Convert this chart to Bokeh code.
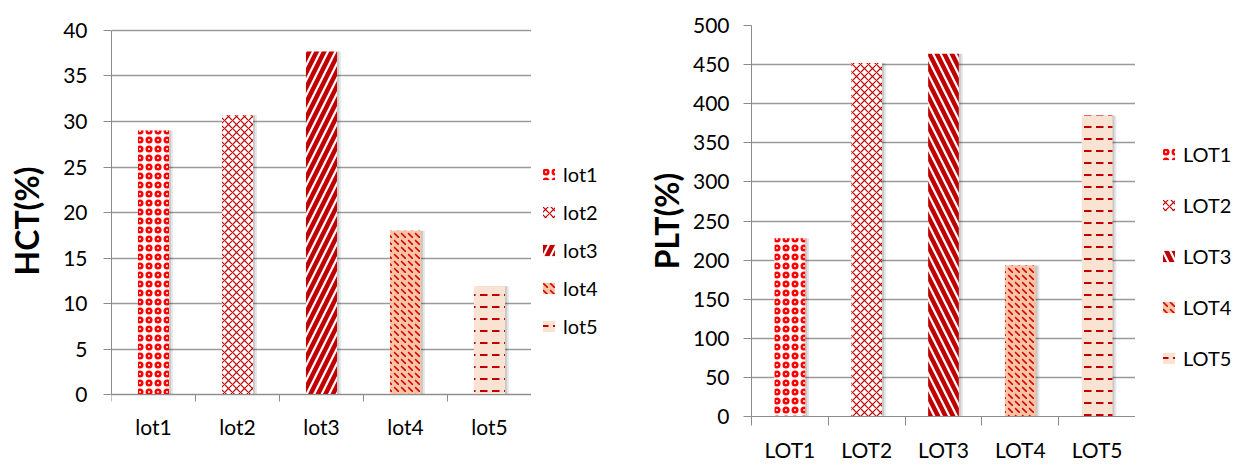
from bokeh.plotting import figure
from bokeh.models import (ColumnDataSource, Range1d, FixedTicker, LinearAxis,
                          SingleIntervalTicker, Legend, LegendItem)
from bokeh.layouts import row
from bokeh.transform import dodge
from bokeh.embed import file_html
from bokeh.resources import INLINE

# ---------------- data ----------------
hct_lots = ["lot1", "lot2", "lot3", "lot4", "lot5"]
hct_values = [29.0, 30.7, 37.7, 18.0, 11.9]

plt_lots = ["LOT1", "LOT2", "LOT3", "LOT4", "LOT5"]
plt_values = [228, 452, 464, 193, 385]

# ---------------- styles ----------------
FONT = "Lato"
fills = ["#ffffff", "#ffffff", "#ffffff", "#f9c4a6", "#fbe3d4"]
hcolors = ["#ff0000", "#c00000", "#c00000", "#d40000", "#c00000"]
hweights = [2.5, 1.2, 4.5, 1.6, 2.0]
hscales = [9, 8, 15, 7, 12]
left_patterns = ["ring", "diagonal_cross", "right_diagonal_line",
                 "left_diagonal_dash", "horizontal_dash"]
right_patterns = ["ring", "diagonal_cross", "left_diagonal_line",
                  "left_diagonal_dash", "horizontal_dash"]

H = 464      # figure height
BT = 25      # top border
FH = 394     # frame height (shared by all frames in the row)
BB = H - BT - FH
AXIS_GRAY = "#8c8c8c"


def bar_kwargs(g):
    return dict(x="x", top="top", width=g["bw"], fill_color="fill",
                line_color=None, hatch_pattern="hp", hatch_color="hc",
                hatch_weight="hw", hatch_scale="hs")


def style_labels(ax, standoff):
    ax.major_label_text_font = FONT
    ax.major_label_text_font_size = "21px"
    ax.major_label_text_color = "#000000"
    ax.major_label_standoff = standoff


def make_chart(cats, vals, ymax, yrange, ystep, ylabel, patterns, g):
    n = len(cats)
    centers = [i + 0.5 for i in range(n)]
    bounds = list(range(n + 1))
    src = ColumnDataSource(dict(
        x=centers, top=vals, label=cats,
        fill=fills, hc=hcolors, hw=hweights, hs=hscales, hp=patterns))
    p = figure(x_range=Range1d(0, n), y_range=Range1d(*yrange),
               width=g["bl"] + g["fw"], height=H,
               min_border_left=g["bl"], min_border_right=0,
               min_border_top=BT, min_border_bottom=BB,
               output_backend="svg", toolbar_location=None)
    p.outline_line_color = None
    p.xgrid.grid_line_color = None
    p.ygrid.grid_line_color = "#9a9a9a"
    p.ygrid.grid_line_width = 1.4
    p.background_fill_color = "white"
    p.border_fill_color = "white"

    # soft shadows
    for off, a in ((g["sh"], 0.10), (g["sh"] * 0.5, 0.12)):
        p.vbar(x=dodge("x", off, range=p.x_range), top="top", width=g["bw"],
               source=src, fill_color="#000000", fill_alpha=a, line_color=None)

    p.vbar(source=src, **bar_kwargs(g))

    # y axis
    ya = p.yaxis[0]
    ya.ticker = SingleIntervalTicker(interval=ystep)
    ya.bounds = (0, ymax)
    ya.minor_tick_line_color = None
    ya.major_tick_in = 0
    ya.major_tick_out = 8
    ya.axis_line_color = AXIS_GRAY
    ya.major_tick_line_color = AXIS_GRAY
    style_labels(ya, g["ys"])
    ya.axis_label = ylabel
    ya.axis_label_text_font = FONT
    ya.axis_label_text_font_style = "bold"
    ya.axis_label_text_font_size = "32px"
    ya.axis_label_text_color = "#000000"
    ya.axis_label_standoff = g["ls"]

    # x axis: line + boundary ticks
    xa = p.xaxis[0]
    xa.axis_line_color = AXIS_GRAY
    xa.major_tick_line_color = None
    xa.major_tick_out = 0
    xa.major_tick_in = 0
    xa.minor_tick_in = 0
    xa.minor_tick_out = g["mt"]
    xa.minor_tick_line_color = AXIS_GRAY
    if g["fixed"]:
        # axis drawn on the zero line inside the frame; labels on a 2nd axis
        xa.fixed_location = 0
        xa.ticker = FixedTicker(ticks=[], minor_ticks=bounds)
        lab = LinearAxis(ticker=FixedTicker(ticks=centers),
                         major_label_overrides={c: t for c, t in zip(centers, cats)},
                         axis_line_color=None, major_tick_line_color=None,
                         minor_tick_line_color=None, major_tick_out=0,
                         major_tick_in=0)
        style_labels(lab, g["xs"])
        p.add_layout(lab, "below")
    else:
        xa.ticker = FixedTicker(ticks=centers, minor_ticks=bounds)
        xa.major_label_overrides = {c: t for c, t in zip(centers, cats)}
        style_labels(xa, g["xs"])

    # legend panel (separate small figure holding the legend)
    lf = figure(width=g["lw"], height=H, x_range=Range1d(-10, -9),
                y_range=Range1d(-10, -9), min_border_left=0,
                min_border_right=0, min_border_top=BT, min_border_bottom=BB,
                x_axis_location=None, y_axis_location=None,
                output_backend="svg", toolbar_location=None)
    lf.grid.visible = False
    lf.outline_line_color = None
    lf.border_fill_color = "white"
    lr = lf.vbar(source=src, **bar_kwargs(g))
    items = [LegendItem(label=c, renderers=[lr], index=i) for i, c in enumerate(cats)]
    leg = Legend(items=items, location=g["lloc"], padding=0, margin=0,
                 spacing=g["lsp"], glyph_width=15, glyph_height=14,
                 label_standoff=7, label_text_font=FONT,
                 label_text_font_size="20px", label_text_color="#000000",
                 background_fill_alpha=0, border_line_color=None)
    lf.add_layout(leg)
    return p, lf


left_geom = dict(fw=420, bl=111, bw=0.37, sh=0.045, fixed=True,
                 ys=16, ls=14, mt=7, xs=-3, lw=97, lloc=(10, 78), lsp=14)
right_geom = dict(fw=384, bl=123, bw=0.40, sh=0.05, fixed=False,
                  ys=14, ls=4, mt=9, xs=11, lw=97, lloc=(26, 46), lsp=27)

# left frame spans a little beyond 0..40 so that 0 and 40 sit where the
# reference has them; the axis line is bounded to 0..40
p1, l1 = make_chart(hct_lots, hct_values, 40, (-2.398, 40.545), 5, "HCT(%)",
                    left_patterns, left_geom)
p2, l2 = make_chart(plt_lots, plt_values, 500, (0, 500), 50, "PLT(%)",
                    right_patterns, right_geom)

layout = row(p1, l1, p2, l2)
open("out.html", "w").write(file_html(layout, INLINE))
